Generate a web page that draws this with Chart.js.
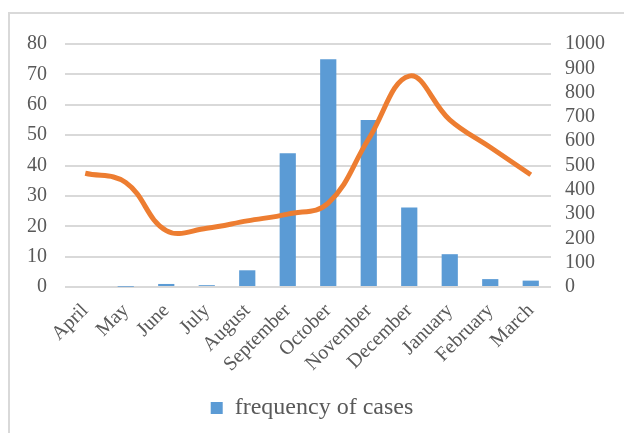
<!DOCTYPE html>
<html>
<head>
<meta charset="utf-8">
<script src="https://cdn.jsdelivr.net/npm/chart.js@4/dist/chart.umd.min.js"></script>
<style>
  html, body { margin: 0; padding: 0; background: #fff; }
  body { width: 624px; height: 433px; position: relative; overflow: hidden; }
  .frame {
    position: absolute; left: 8px; top: 12px; width: 640px; height: 440px;
    border: 2px solid #D9D9D9; box-sizing: border-box;
  }
  .wrap { position: absolute; left: 0; top: 0; width: 624px; height: 433px; }
</style>
</head>
<body>
<div class="frame"></div>
<div class="wrap"><canvas id="chart"></canvas></div>
<script>
// months of the year (April to March)
const months = ['April', 'May', 'June', 'July', 'August', 'September', 'October',
  'November', 'December', 'January', 'February', 'March'];

// bar series, left axis
const frequencyOfCases = [0, 0.1, 1, 0.6, 5.5, 44, 75, 55, 26.2, 10.8, 2.6, 2.1];

// line series, right axis
const lineValues = [468, 430, 232, 242, 272, 300, 345, 610, 868, 688, 575, 462];

// tick settings
const leftMax = 80, leftStep = 10;
const rightMax = 1000, rightStep = 100;

const textColor = '#595959';
const serif = "'Liberation Serif', 'Times New Roman', serif";

const ctx = document.getElementById('chart');

new Chart(ctx, {
  type: 'bar',
  data: {
    labels: months,
    datasets: [
      {
        type: 'line',
        label: 'series 2',
        data: lineValues,
        yAxisID: 'y1',
        borderColor: '#ED7D31',
        borderWidth: 5,
        pointRadius: 0,
        tension: 0.4,
        fill: false,
        order: 0
      },
      {
        type: 'bar',
        label: 'frequency of cases',
        data: frequencyOfCases,
        yAxisID: 'y',
        backgroundColor: '#5B9BD5',
        barPercentage: 0.8,
        categoryPercentage: 0.5,
        order: 1
      }
    ]
  },
  options: {
    responsive: true,
    maintainAspectRatio: false,
    animation: false,
    layout: { padding: { left: 0, right: 0, top: 44, bottom: 3 } },
    plugins: {
      tooltip: { enabled: false },
      legend: {
        position: 'bottom',
        labels: {
          color: textColor,
          font: { family: serif, size: 24 },
          boxWidth: 12,
          boxHeight: 12,
          padding: 10,
          filter: item => item.text === 'frequency of cases'
        }
      }
    },
    scales: {
      x: {
        grid: { display: false },
        border: { display: false },
        ticks: {
          color: textColor,
          font: { family: serif, size: 20 },
          minRotation: 45,
          maxRotation: 45,
          padding: 4
        },
        afterFit: scale => { scale.height = 99; }
      },
      y: {
        position: 'left',
        min: 0,
        max: leftMax,
        grid: { color: '#D9D9D9', lineWidth: 2, drawTicks: false },
        border: { display: false },
        ticks: {
          stepSize: leftStep,
          color: textColor,
          font: { family: serif, size: 20 },
          padding: 18
        },
        afterFit: scale => { scale.width = 65; }
      },
      y1: {
        position: 'right',
        min: 0,
        max: rightMax,
        grid: { display: false, drawTicks: false },
        border: { display: false },
        ticks: {
          stepSize: rightStep,
          autoSkip: false,
          color: textColor,
          font: { family: serif, size: 20 },
          padding: 14,
          callback: value => String(value)
        },
        afterFit: scale => { scale.width = 73; }
      }
    }
  }
});
</script>
</body>
</html>
